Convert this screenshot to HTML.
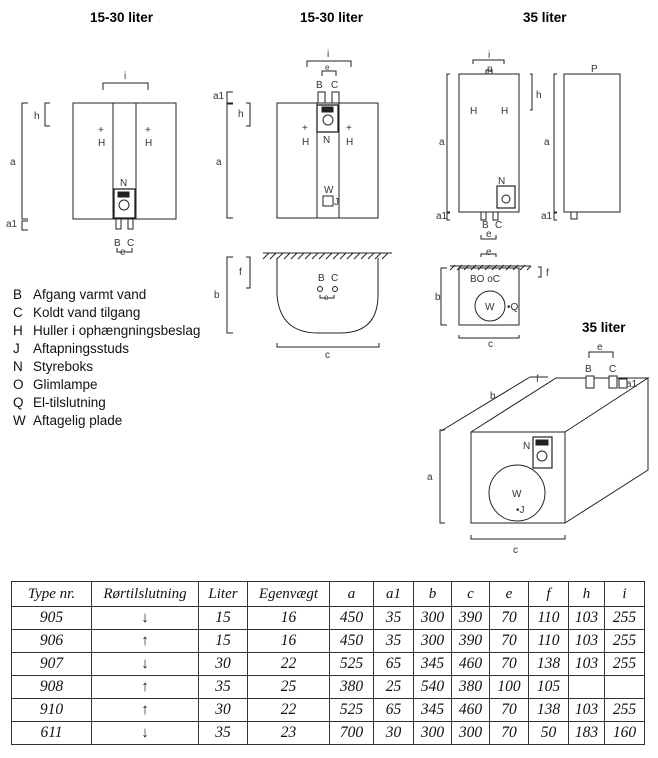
<!DOCTYPE html>
<html><head><meta charset="utf-8"><style>
body{margin:0;width:658px;height:758px;background:#fff;position:relative;overflow:hidden;font-family:"Liberation Sans",sans-serif}
svg{position:absolute;left:0;top:0}
table{position:absolute;left:11px;top:581px;border-collapse:collapse;font-family:"Liberation Serif",serif;font-style:italic;font-size:15.5px;color:#111}
td{border:1.3px solid #333;height:22px;padding:0;text-align:center}
tr:first-child td{height:24px;font-size:15px}
.ar{font-style:normal;font-size:15px}
</style></head><body>
<svg width="658" height="580" viewBox="0 0 658 580" font-family="Liberation Sans, sans-serif" stroke="#222" fill="none" stroke-width="1">
<g fill="#000" stroke="none" font-weight="bold" font-size="13.5">
<text x="90" y="22">15-30 liter</text><text x="300" y="22">15-30 liter</text><text x="523" y="22">35 liter</text><text x="582" y="332">35 liter</text>
</g>
<!-- tank 1 -->
<rect x="73" y="103" width="103" height="116"/>
<line x1="113" y1="103" x2="113" y2="219"/><line x1="136" y1="103" x2="136" y2="219"/>
<rect x="114" y="189" width="21" height="29" stroke-width="1.3"/>
<circle cx="124" cy="205" r="5"/><rect x="118" y="192" width="11" height="5" fill="#222"/>
<rect x="116" y="219" width="5" height="10"/><rect x="128" y="219" width="5" height="10"/>
<polyline points="103,90 103,83 148,83 148,90"/>
<polyline points="117,248 117,252 132,252 132,248"/>
<polyline points="50,103 45,103 45,126 50,126"/>
<polyline points="28,103 22,103 22,219 28,219"/><polyline points="28,221 22,221 22,230 28,230"/>
<!-- tank 2 -->
<rect x="277" y="103" width="101" height="115"/>
<line x1="317" y1="103" x2="317" y2="218"/><line x1="339" y1="103" x2="339" y2="218"/>
<rect x="317" y="105" width="21" height="27" stroke-width="1.3"/>
<circle cx="328" cy="120" r="5"/><rect x="322" y="107" width="11" height="5" fill="#222"/>
<rect x="318" y="92" width="7" height="11"/><rect x="332" y="92" width="7" height="11"/>
<rect x="323" y="196" width="10" height="10"/>
<polyline points="307,67 307,61 351,61 351,67"/>
<polyline points="322,76 322,71 336,71 336,76"/>
<polyline points="233,92 227,92 227,103 233,103"/>
<polyline points="233,104 227,104 227,218 233,218"/>
<polyline points="246,103 250,103 250,126 246,126"/>
<!-- bottom view 2 -->
<line x1="263" y1="253" x2="392" y2="253"/>
<path d="M263,259 l6,-6 M270,259 l6,-6 M277,259 l6,-6 M284,259 l6,-6 M291,259 l6,-6 M298,259 l6,-6 M305,259 l6,-6 M312,259 l6,-6 M319,259 l6,-6 M326,259 l6,-6 M333,259 l6,-6 M340,259 l6,-6 M347,259 l6,-6 M354,259 l6,-6 M361,259 l6,-6 M368,259 l6,-6 M375,259 l6,-6 M382,259 l6,-6"/>
<path d="M277,258 V295 Q280,333 318,333 H340 Q378,333 378,295 V258"/>
<circle cx="320" cy="289" r="2.5"/><circle cx="335" cy="289" r="2.5"/>
<polyline points="320,295 320,298 334,298 334,295"/>
<polyline points="233,257 227,257 227,333 233,333"/>
<polyline points="246,257 250,257 250,288 246,288"/>
<polyline points="277,343 277,347 379,347 379,343"/>
<!-- tank 3 front -->
<rect x="459" y="74" width="60" height="138"/>
<rect x="497" y="186" width="18" height="22" stroke-width="1.2"/><circle cx="506" cy="199" r="4"/>
<rect x="481" y="212" width="5" height="8"/><rect x="493" y="212" width="5" height="8"/>
<polyline points="473,64 473,60 504,60 504,64"/><path d="M486,74 v-4 h6 v4"/>
<polyline points="481,235 481,239 496,239 496,235"/>
<polyline points="450,74 447,74 447,212 450,212"/><polyline points="450,213 447,213 447,220 450,220"/>
<polyline points="530,74 532,74 532,110 530,110"/>
<!-- side -->
<rect x="564" y="74" width="56" height="138"/><rect x="571" y="212" width="6" height="7"/>
<polyline points="557,74 554,74 554,212 557,212"/><polyline points="557,213 554,213 554,220 557,220"/>
<!-- bottom 3 -->
<line x1="450" y1="266" x2="531" y2="266"/>
<path d="M450,270 l5,-5 M457,270 l5,-5 M464,270 l5,-5 M471,270 l5,-5 M478,270 l5,-5 M485,270 l5,-5 M492,270 l5,-5 M499,270 l5,-5 M506,270 l5,-5 M513,270 l5,-5 M520,270 l5,-5 M527,270 l4,-4"/>
<rect x="459" y="268" width="60" height="57"/><circle cx="490" cy="306" r="15"/>
<polyline points="481,257 481,254 496,254 496,257"/>
<polyline points="447,268 441,268 441,325 447,325"/>
<polyline points="538,267 541,267 541,277 538,277"/>
<polyline points="459,335 459,338 519,338 519,335"/>
<!-- 3D -->
<path d="M471,432 H565 V523 H471 Z M471,432 L556,378 H648 L565,432 M648,378 V470 L565,523"/>
<circle cx="517" cy="493" r="28"/>
<rect x="533" y="437" width="19" height="31" stroke-width="1.2"/><circle cx="542" cy="456" r="5"/><rect x="536" y="440" width="12" height="5" fill="#222"/>
<rect x="586" y="376" width="8" height="12" fill="#fff"/><rect x="609" y="376" width="8" height="12" fill="#fff"/><rect x="619" y="379" width="8" height="9" fill="#fff"/>
<polyline points="589,358 589,352 613,352 613,358"/>
<line x1="441" y1="431" x2="530" y2="377"/><line x1="530" y1="377" x2="548" y2="377"/>
<polyline points="445,430 440,430 440,523 445,523"/>
<polyline points="471,535 471,539 565,539 565,535"/>
<g fill="#333" stroke="none" font-size="10">
<text x="124" y="79">i</text><text x="34" y="119">h</text><text x="10" y="165">a</text><text x="6" y="227">a1</text>
<text x="98" y="133">+</text><text x="98" y="146">H</text><text x="145" y="133">+</text><text x="145" y="146">H</text>
<text x="120" y="186">N</text><text x="114" y="246">B</text><text x="127" y="246">C</text><text x="120" y="255">e</text>
<text x="327" y="57">i</text><text x="325" y="70" font-size="8">e</text><text x="316" y="88">B</text><text x="331" y="88">C</text>
<text x="213" y="99">a1</text><text x="238" y="117">h</text><text x="216" y="165">a</text>
<text x="302" y="131">+</text><text x="302" y="145">H</text><text x="346" y="131">+</text><text x="346" y="145">H</text>
<text x="323" y="143">N</text><text x="324" y="193">W</text><text x="334" y="205">J</text>
<text x="239" y="275">f</text><text x="214" y="298">b</text><text x="318" y="281">B</text><text x="331" y="281">C</text><text x="324" y="300" font-size="8">e</text><text x="325" y="358">c</text>
<text x="488" y="58">i</text><text x="487" y="72">p</text><text x="536" y="98">h</text><text x="439" y="145">a</text>
<text x="470" y="114">H</text><text x="501" y="114">H</text><text x="498" y="184">N</text>
<text x="482" y="228">B</text><text x="495" y="228">C</text><text x="486" y="237">e</text><text x="486" y="255">e</text>
<text x="591" y="72">P</text><text x="544" y="145">a</text><text x="436" y="219">a1</text><text x="541" y="219">a1</text>
<text x="546" y="276">f</text><text x="435" y="300">b</text><text x="470" y="282">BO oC</text><text x="485" y="310">W</text><text x="507" y="310">•Q</text><text x="488" y="347">c</text>
<text x="597" y="350">e</text><text x="585" y="372">B</text><text x="609" y="372">C</text><text x="626" y="387">a1</text><text x="536" y="382">f</text>
<text x="490" y="399">b</text><text x="427" y="480">a</text><text x="523" y="449">N</text><text x="512" y="497">W</text><text x="516" y="513">•J</text><text x="513" y="553">c</text>
</g>
<g fill="#111" stroke="none" font-size="13.5">
<text x="13" y="299">B</text><text x="33" y="299">Afgang varmt vand</text>
<text x="13" y="317">C</text><text x="33" y="317">Koldt vand tilgang</text>
<text x="13" y="335">H</text><text x="33" y="335">Huller i ophængningsbeslag</text>
<text x="13" y="353">J</text><text x="33" y="353">Aftapningsstuds</text>
<text x="13" y="371">N</text><text x="33" y="371">Styreboks</text>
<text x="13" y="389">O</text><text x="33" y="389">Glimlampe</text>
<text x="13" y="407">Q</text><text x="33" y="407">El-tilslutning</text>
<text x="13" y="425">W</text><text x="33" y="425">Aftagelig plade</text>
</g>
</svg>
<table>
<colgroup><col style="width:80px"><col style="width:107px"><col style="width:49px"><col style="width:82px"><col style="width:44px"><col style="width:40px"><col style="width:38px"><col style="width:38px"><col style="width:39px"><col style="width:40px"><col style="width:36px"><col style="width:40px"></colgroup>
<tr><td>Type nr.</td><td>Rørtilslutning</td><td>Liter</td><td>Egenvægt</td><td>a</td><td>a1</td><td>b</td><td>c</td><td>e</td><td>f</td><td>h</td><td>i</td></tr>
<tr><td>905</td><td class="ar">↓</td><td>15</td><td>16</td><td>450</td><td>35</td><td>300</td><td>390</td><td>70</td><td>110</td><td>103</td><td>255</td></tr>
<tr><td>906</td><td class="ar">↑</td><td>15</td><td>16</td><td>450</td><td>35</td><td>300</td><td>390</td><td>70</td><td>110</td><td>103</td><td>255</td></tr>
<tr><td>907</td><td class="ar">↓</td><td>30</td><td>22</td><td>525</td><td>65</td><td>345</td><td>460</td><td>70</td><td>138</td><td>103</td><td>255</td></tr>
<tr><td>908</td><td class="ar">↑</td><td>35</td><td>25</td><td>380</td><td>25</td><td>540</td><td>380</td><td>100</td><td>105</td><td></td><td></td></tr>
<tr><td>910</td><td class="ar">↑</td><td>30</td><td>22</td><td>525</td><td>65</td><td>345</td><td>460</td><td>70</td><td>138</td><td>103</td><td>255</td></tr>
<tr><td>611</td><td class="ar">↓</td><td>35</td><td>23</td><td>700</td><td>30</td><td>300</td><td>300</td><td>70</td><td>50</td><td>183</td><td>160</td></tr>
</table>
</body></html>
